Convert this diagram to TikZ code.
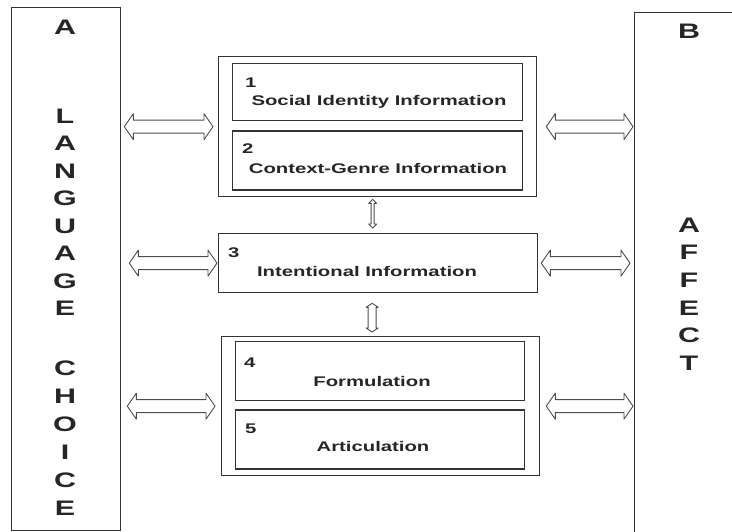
\documentclass[tikz,border=0pt]{standalone}
\usepackage{fontspec}
\newfontfamily\diagfont[FakeStretch=1.45]{Liberation Sans}
\usetikzlibrary{arrows.meta,positioning,calc}

\begin{document}
\begin{tikzpicture}[x=1pt,y=-1pt,
  frame/.style={draw=black!80,line width=1.3pt,anchor=north west,inner sep=0pt},
  bigl/.style={font=\diagfont\bfseries\fontsize{21}{25}\selectfont,text=black!85,inner sep=0pt},
  lab/.style={font=\diagfont\bfseries\fontsize{14}{17}\selectfont,text=black!85,inner sep=0pt,anchor=base},
  link/.style={draw=black!70,line width=0.9pt,line join=round},
  harrow/.style={link,to path={let \p1=(\tikztostart),\p2=(\tikztotarget) in
    (\x1,\y1) -- (\x1+9pt,\y1+13pt) -- (\x1+9pt,\y1+6.5pt) -- (\x2-9pt,\y1+6.5pt) -- (\x2-9pt,\y1+13pt)
    -- (\x2,\y1) -- (\x2-9pt,\y1-13pt) -- (\x2-9pt,\y1-6.5pt) -- (\x1+9pt,\y1-6.5pt) -- (\x1+9pt,\y1-13pt) -- cycle}},
  varrow/.style 2 args={link,to path={let \p1=(\tikztostart),\p2=(\tikztotarget) in
    (\x1,\y1) -- (\x1+#2,\y1-4pt) -- (\x1+#1,\y1-4pt) -- (\x1+#1,\y2+4pt) -- (\x1+#2,\y2+4pt)
    -- (\x1,\y2) -- (\x1-#2,\y2+4pt) -- (\x1-#1,\y2+4pt) -- (\x1-#1,\y1-4pt) -- (\x1-#2,\y1-4pt) -- cycle}}]
\useasboundingbox (0,0) rectangle (732,531);
\clip (0,0) rectangle (732,531);

% side columns
\node (lang) [frame,minimum width=109pt,minimum height=523pt] at (11,7) {};
\node (aff) [frame,minimum width=120pt,minimum height=540pt] at (634,12) {};
\node (keyA) [bigl] at (65,27) {A};
\foreach \ch [count=\i from 0] in {L,A,N,G,U,A,G,E}
  \node (word\i) [bigl] at (65,116+27.5*\i) {\ch};
\foreach \ch [count=\i from 0] in {C,H,O,I,C,E}
  \node (choice\i) [bigl] at (65,368+28*\i) {\ch};
\node (keyB) [bigl] at (689,31) {B};
\foreach \ch [count=\i from 0] in {A,F,F,E,C,T}
  \node (affect\i) [bigl] at (689,225+27.6*\i) {\ch};

% middle boxes
\node (grp1) [frame,minimum width=318pt,minimum height=140pt] at (218,56) {};
\node (soc) [frame,minimum width=290pt,minimum height=57pt,below right=7pt and 14pt of grp1.north west] {};
\node (ctx) [frame,anchor=north,minimum width=290pt,minimum height=59pt,below=9pt of soc] {};
\node (intent) [frame,minimum width=319pt,minimum height=59pt] at (218,233) {};
\node (grp2) [frame,minimum width=318pt,minimum height=139pt] at (221,336) {};
\node (form) [frame,minimum width=289pt,minimum height=59pt,below right=5pt and 14pt of grp2.north west] {};
\node (art) [frame,anchor=north,minimum width=289pt,minimum height=59pt,below=8pt of form] {};

% labels
\node (n1) [lab,anchor=base west] at (245,87) {1};
\node (t1) [lab] at (379,105) {Social Identity Information};
\node (n2) [lab,anchor=base west] at (242,153) {2};
\node (t2) [lab] at (378,173) {Context-Genre Information};
\node (n3) [lab,anchor=base west] at (228,257) {3};
\node (t3) [lab] at (367,276) {Intentional Information};
\node (n4) [lab,anchor=base west] at (244,367) {4};
\node (t4) [lab] at (372,386) {Formulation};
\node (n5) [lab,anchor=base west] at (245,433) {5};
\node (t5) [lab] at (373,451) {Articulation};

% links
\draw[harrow] ([xshift=3pt]lang.east |- grp1.west) to ([xshift=-5pt]grp1.west);
\draw[harrow] ([xshift=8pt]lang.east |- intent.west) to ([xshift=-1pt]intent.west);
\draw[harrow] ([xshift=6pt]lang.east |- grp2.west) to ([xshift=-6pt]grp2.west);
\draw[harrow] ([xshift=9pt]grp1.east) to ([xshift=-1pt]grp1.east -| aff.west);
\draw[harrow] ([xshift=3pt]intent.east) to ([xshift=-4pt]intent.east -| aff.west);
\draw[harrow] ([xshift=6pt]grp2.east) to ([xshift=-1pt]grp2.east -| aff.west);
\draw[varrow={1.5pt}{4pt}] ([shift={(-5pt,-2pt)}]grp1.south) to ([shift={(-5pt,5pt)}]grp1.south |- intent.north);
\draw[varrow={4pt}{6pt}] ([shift={(-6pt,-10pt)}]intent.south) to ([shift={(-6pt,4pt)}]intent.south |- grp2.north);
\end{tikzpicture}
\end{document}
